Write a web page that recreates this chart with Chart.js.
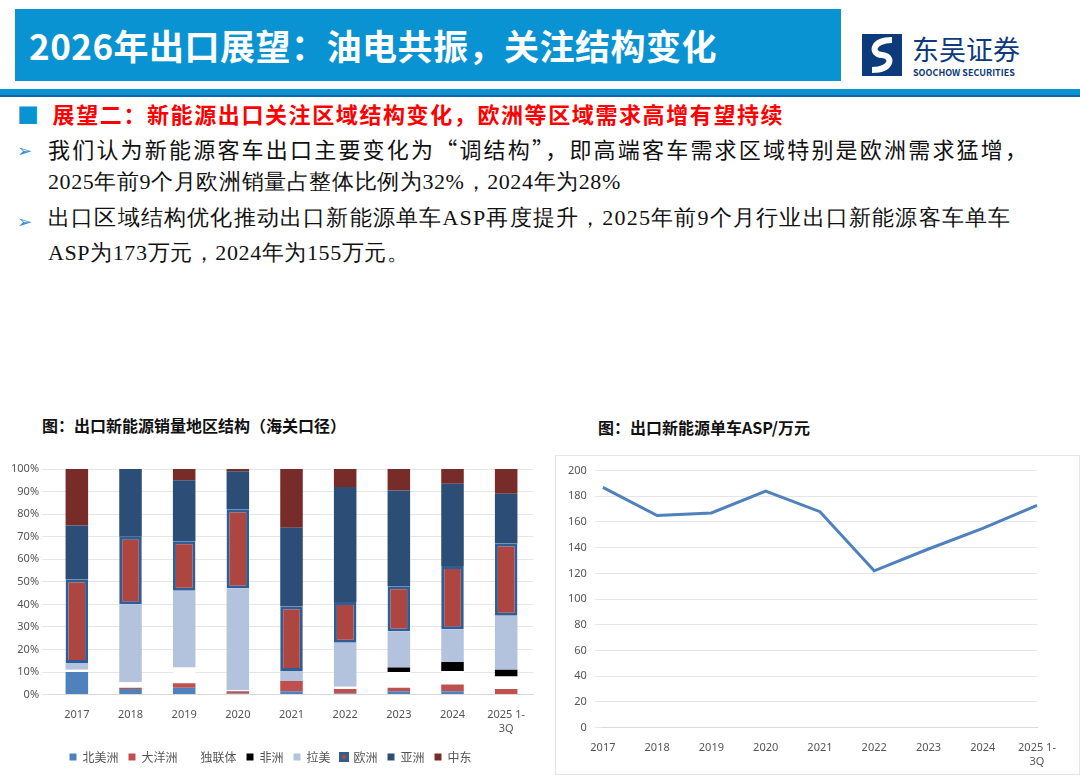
<!DOCTYPE html>
<html><head><meta charset="utf-8">
<script src="https://cdn.jsdelivr.net/npm/chart.js@4"></script>
<style>
body{margin:0;width:1080px;height:775px;background:#fff;font-family:"Noto Sans CJK SC",sans-serif;position:relative;overflow:hidden}
.tb{position:absolute;left:15px;top:9px;width:826px;height:72px;background:#0a93d3;color:#fff;font-size:35px;font-weight:bold;line-height:72px;padding-left:14px;box-sizing:border-box;letter-spacing:0.5px}
.line{position:absolute;left:0;top:89px;width:1080px;height:6px;background:#0a93d3;border-bottom:2px solid #1d5fa6}
.logo{position:absolute;left:862px;top:34px}
.t{position:absolute;font-size:22px;color:#111;letter-spacing:2.2px;white-space:nowrap}
.ser{font-family:"Liberation Serif",serif}
.h{position:absolute;left:17px;top:97px;font-size:22px;font-weight:bold;color:#ff0000;letter-spacing:1.6px}
.h span{color:#0a93d3;margin-right:12px}
.arr{position:absolute;left:17px;color:#3b8fd4;font-size:18px}
.ct{position:absolute;font-size:16px;font-weight:bold;color:#111}
</style></head><body>
<div class="tb">2026年出口展望：油电共振，关注结构变化</div>
<div class="logo"><svg width="40" height="42"><rect width="40" height="42" fill="#0d3a7a"/><path d="M30 6 C10 6 8 20 20 21 C32 22 30 36 10 36" stroke="#fff" stroke-width="6" fill="none"/></svg></div>
<div style="position:absolute;left:912px;top:34px;font-size:27px;color:#0d3a7a;line-height:30px">东吴证券</div>
<div style="position:absolute;left:913px;top:66px;font-size:9px;color:#0d3a7a;font-weight:bold">SOOCHOW SECURITIES</div>
<div class="line"></div>
<div class="h"><span>■</span>展望二：新能源出口关注区域结构变化，欧洲等区域需求高增有望持续</div>
<div class="arr" style="top:136px">➢</div>
<div class="t" style="left:48px;top:132px">我们认为新能源客车出口主要变化为“调结构”，即高端客车需求区域特别是欧洲需求猛增，</div>
<div class="t ser" style="left:48px;top:167px;letter-spacing:0.6px">2025年前9个月欧洲销量占整体比例为32%，2024年为28%</div>
<div class="arr" style="top:207px">➢</div>
<div class="t ser" style="left:48px;top:203px;letter-spacing:1.2px">出口区域结构优化推动出口新能源单车ASP再度提升，2025年前9个月行业出口新能源客车单车</div>
<div class="t ser" style="left:48px;top:238px;letter-spacing:0.6px">ASP为173万元，2024年为155万元。</div>
<div class="ct" style="left:42px;top:413px">图：出口新能源销量地区结构（海关口径）</div>
<div class="ct" style="left:598px;top:415px">图：出口新能源单车ASP/万元</div>
<div style="position:absolute;left:0;top:455px;width:545px;height:320px"><canvas id="c1"></canvas></div>
<div style="position:absolute;left:555px;top:455px;width:525px;height:320px;border:1px solid #e4e4e4;box-sizing:border-box"><canvas id="c2"></canvas></div>
<script>
const categories=['2017','2018','2019','2020','2021','2022','2023','2024',['2025 1-','3Q']];
const northAmerica=[10,2.5,3,0.5,1.5,0.5,1.5,1.5,0];
const oceania=[0,0.5,2,1,4.5,2,1.5,3,2.5];
const cis=[1,2.5,7,0.5,0,1,7,6,5.5];
const africa=[0,0,0,0,0,0,2,4,3];
const latAm=[3,34.5,34,45,4.5,19.5,16,14.5,24];
const europe=[37,30,22,35,28.5,18,20,28,32];
const asia=[24,30,27,17,35,51,42.5,36.5,22];
const middleEast=[25,0,5,1,26,8,9.5,6.5,11];
const aspValues=[187,165,167,184,168,122,139,155,173];
const F='"Noto Sans", sans-serif';
Chart.defaults.font.family=F;Chart.defaults.animation=false;
const ds=(l,d,c,ex)=>Object.assign({label:l,data:d,backgroundColor:c,borderWidth:0,barPercentage:0.42,categoryPercentage:1},ex||{});
new Chart(document.getElementById('c1'),{type:'bar',data:{labels:categories,datasets:[
ds('北美洲',northAmerica,'#4f81bd'),ds('大洋洲',oceania,'#c0504d'),ds('独联体',cis,'#ffffff'),ds('非洲',africa,'#000000'),
ds('拉美',latAm,'#b3c3dd'),ds('欧洲',europe,'#ad4541',{borderColor:'#2f5d95',borderWidth:3,borderSkipped:false}),
ds('亚洲',asia,'#2c4d76'),ds('中东',middleEast,'#772c2a')]},
options:{responsive:true,maintainAspectRatio:false,layout:{padding:{left:8,right:12,top:14,bottom:2}},
plugins:{legend:{position:'bottom',labels:{boxWidth:7,boxHeight:7,font:{size:12,family:'"Noto Sans CJK SC"'},color:'#555',padding:10}},tooltip:{enabled:false}},
scales:{x:{stacked:true,grid:{display:false},border:{color:'#d9d9d9'},ticks:{color:'#555',font:{size:11},maxRotation:0,padding:6}},
y:{stacked:true,min:0,max:100,ticks:{stepSize:10,color:'#555',font:{size:11},callback:v=>v+'%'},grid:{color:'#e6e6e6'},border:{display:false}}}}});
new Chart(document.getElementById('c2'),{type:'line',data:{labels:categories,datasets:[{data:aspValues,borderColor:'#4f81bd',borderWidth:3,pointRadius:0,tension:0}]},
options:{responsive:true,maintainAspectRatio:false,layout:{padding:{left:4,right:42,top:8,bottom:0}},
plugins:{legend:{display:false},tooltip:{enabled:false}},
scales:{x:{grid:{display:false},border:{color:'#d9d9d9'},ticks:{color:'#555',font:{size:11},maxRotation:0,padding:6}},
y:{min:0,max:200,ticks:{stepSize:20,color:'#555',font:{size:11},padding:8},grid:{color:'#e6e6e6'},border:{display:false}}}}});
</script></body></html>
